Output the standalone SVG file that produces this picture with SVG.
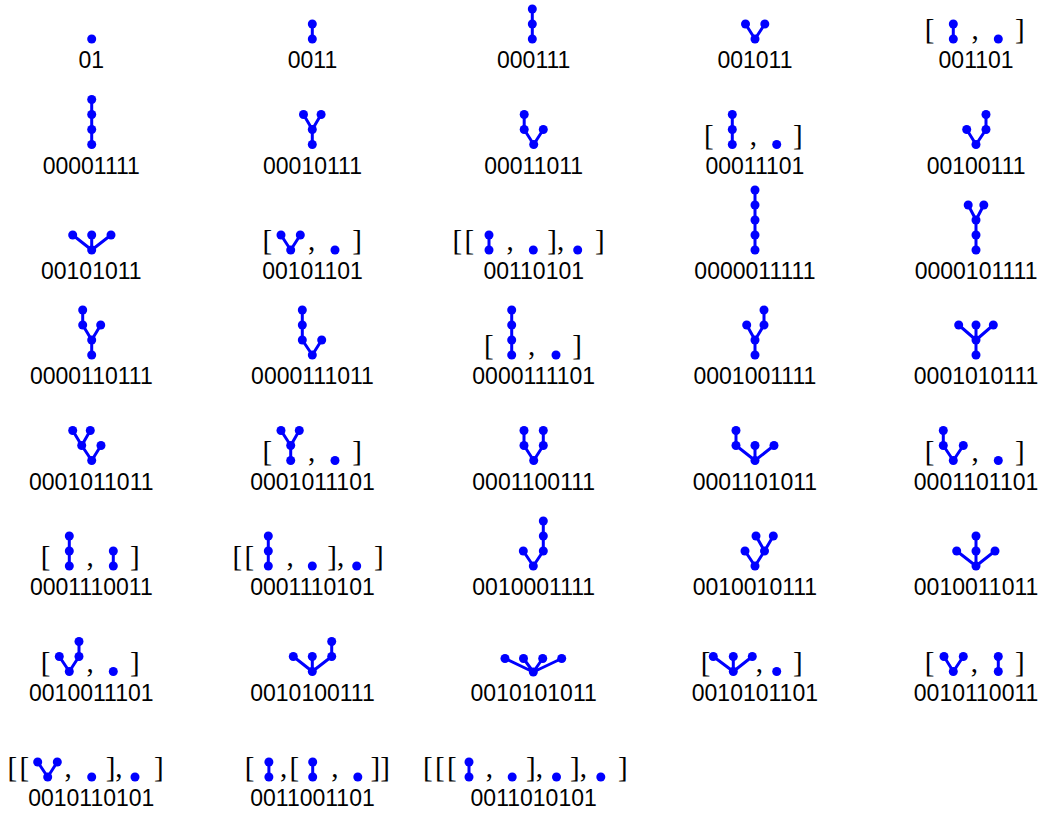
<svg xmlns="http://www.w3.org/2000/svg" width="1040" height="814" viewBox="0 0 1040 814">
<style>
.e{fill:none;stroke:#0000ff;stroke-width:3;stroke-linecap:round;stroke-linejoin:round}
.n{fill:#0000ff}
.l{font-family:"Liberation Sans",Arial,sans-serif;font-size:23px;text-anchor:middle;fill:#000}
.b{font-family:"Liberation Serif","Times New Roman",serif;font-size:29px;fill:#000}
</style>
<rect width="1040" height="814" fill="#fff"/>
<defs><circle id="d" r="4.5" class="n"/></defs>

<!-- Row 1 -->
<g id="w01"><use href="#d" x="91.7" y="39"/><text class="l" x="91.3" y="68">01</text></g>
<g id="w0011"><path class="e" d="M312.3 24V39"/><use href="#d" x="312.3" y="24"/><use href="#d" x="312.3" y="39"/><text class="l" x="312.5" y="68">0011</text></g>
<g id="w000111"><path class="e" d="M532.3 9V39"/><use href="#d" x="532.3" y="9"/><use href="#d" x="532.3" y="24"/><use href="#d" x="532.3" y="39"/><text class="l" x="533.7" y="68">000111</text></g>
<g id="w001011"><path class="e" d="M745.5 24L755 39L764.8 24"/><use href="#d" x="745.5" y="24"/><use href="#d" x="755" y="39"/><use href="#d" x="764.8" y="24"/><text class="l" x="754.9" y="68">001011</text></g>
<g id="w001101"><text class="b" x="924.7" y="39">[</text><path class="e" d="M953.3 24V39"/><use href="#d" x="953.3" y="24"/><use href="#d" x="953.3" y="39"/><text class="b" x="971.4" y="39">,</text><use href="#d" x="998.3" y="39"/><text class="b" x="1015" y="39">]</text><text class="l" x="976.1" y="68">001101</text></g>

<!-- Row 2 -->
<g id="w00001111"><path class="e" d="M91.7 99.5V144.5"/><use href="#d" x="91.7" y="99.5"/><use href="#d" x="91.7" y="114.5"/><use href="#d" x="91.7" y="129.5"/><use href="#d" x="91.7" y="144.5"/><text class="l" x="91.3" y="173.5">00001111</text></g>
<g id="w00010111"><path class="e" d="M312.3 144.5V129.5M303.5 114.5L312.3 129.5L321.1 114.5"/><use href="#d" x="312.3" y="144.5"/><use href="#d" x="312.3" y="129.5"/><use href="#d" x="303.5" y="114.5"/><use href="#d" x="321.1" y="114.5"/><text class="l" x="312.5" y="173.5">00010111</text></g>
<g id="w00011011"><path class="e" d="M524.2 114.5V129.5L533.7 144.5L543.3 129.5"/><use href="#d" x="524.2" y="114.5"/><use href="#d" x="524.2" y="129.5"/><use href="#d" x="533.7" y="144.5"/><use href="#d" x="543.3" y="129.5"/><text class="l" x="533.7" y="173.5">00011011</text></g>
<g id="w00011101"><text class="b" x="704.1" y="144.5">[</text><path class="e" d="M732.3 114.5V144.5"/><use href="#d" x="732.3" y="114.5"/><use href="#d" x="732.3" y="129.5"/><use href="#d" x="732.3" y="144.5"/><text class="b" x="749.7" y="144.5">,</text><use href="#d" x="776.7" y="144.5"/><text class="b" x="793" y="144.5">]</text><text class="l" x="754.9" y="173.5">00011101</text></g>
<g id="w00100111"><path class="e" d="M966.7 129.5L976 144.5L986 129.5V114.5"/><use href="#d" x="966.7" y="129.5"/><use href="#d" x="976" y="144.5"/><use href="#d" x="986" y="129.5"/><use href="#d" x="986" y="114.5"/><text class="l" x="976.1" y="173.5">00100111</text></g>

<!-- Row 3 -->
<g id="w00101011"><path class="e" d="M72.7 235L91.7 250L111 235M91.7 235V250"/><use href="#d" x="72.7" y="235"/><use href="#d" x="91.7" y="235"/><use href="#d" x="111" y="235"/><use href="#d" x="91.7" y="250"/><text class="l" x="91.3" y="279">00101011</text></g>
<g id="w00101101"><text class="b" x="262.4" y="250">[</text><path class="e" d="M281 235L290.7 250L300.3 235"/><use href="#d" x="281" y="235"/><use href="#d" x="290.7" y="250"/><use href="#d" x="300.3" y="235"/><text class="b" x="308.1" y="250">,</text><use href="#d" x="335" y="250"/><text class="b" x="352.3" y="250">]</text><text class="l" x="312.5" y="279">00101101</text></g>
<g id="w00110101"><text class="b" x="452.4" y="250">[</text><text class="b" x="464.4" y="250">[</text><path class="e" d="M489 235V250"/><use href="#d" x="489" y="235"/><use href="#d" x="489" y="250"/><text class="b" x="506.4" y="250">,</text><use href="#d" x="533.3" y="250"/><text class="b" x="547.3" y="250">],</text><use href="#d" x="577.7" y="250"/><text class="b" x="595" y="250">]</text><text class="l" x="533.7" y="279">00110101</text></g>
<g id="w0000011111"><path class="e" d="M755 190V250"/><use href="#d" x="755" y="190"/><use href="#d" x="755" y="205"/><use href="#d" x="755" y="220"/><use href="#d" x="755" y="235"/><use href="#d" x="755" y="250"/><text class="l" x="754.9" y="279">0000011111</text></g>
<g id="w0000101111"><path class="e" d="M976 250V220M968.2 205L976 220L983.8 205"/><use href="#d" x="976" y="250"/><use href="#d" x="976" y="235"/><use href="#d" x="976" y="220"/><use href="#d" x="968.2" y="205"/><use href="#d" x="983.8" y="205"/><text class="l" x="976.1" y="279">0000101111</text></g>

<!-- Row 4 -->
<g id="w0000110111"><path class="e" d="M91.7 355V340M82.7 310V325L91.7 340L100.7 325"/><use href="#d" x="91.7" y="355"/><use href="#d" x="91.7" y="340"/><use href="#d" x="82.7" y="325"/><use href="#d" x="82.7" y="310"/><use href="#d" x="100.7" y="325"/><text class="l" x="91.3" y="384">0000110111</text></g>
<g id="w0000111011"><path class="e" d="M302.3 310V340L312.3 355L321.7 340"/><use href="#d" x="302.3" y="310"/><use href="#d" x="302.3" y="325"/><use href="#d" x="302.3" y="340"/><use href="#d" x="312.3" y="355"/><use href="#d" x="321.7" y="340"/><text class="l" x="312.5" y="384">0000111011</text></g>
<g id="w0000111101"><text class="b" x="484.1" y="355">[</text><path class="e" d="M511.7 310V355"/><use href="#d" x="511.7" y="310"/><use href="#d" x="511.7" y="325"/><use href="#d" x="511.7" y="340"/><use href="#d" x="511.7" y="355"/><text class="b" x="528.1" y="355">,</text><use href="#d" x="556" y="355"/><text class="b" x="572.3" y="355">]</text><text class="l" x="533.7" y="384">0000111101</text></g>
<g id="w0001001111"><path class="e" d="M755 355V340M746.7 325L755 340L764 325V310"/><use href="#d" x="755" y="355"/><use href="#d" x="755" y="340"/><use href="#d" x="746.7" y="325"/><use href="#d" x="764" y="325"/><use href="#d" x="764" y="310"/><text class="l" x="754.9" y="384">0001001111</text></g>
<g id="w0001010111"><path class="e" d="M976 355V325M958.7 325L976 340L993.3 325"/><use href="#d" x="976" y="355"/><use href="#d" x="976" y="340"/><use href="#d" x="958.7" y="325"/><use href="#d" x="976" y="325"/><use href="#d" x="993.3" y="325"/><text class="l" x="976.1" y="384">0001010111</text></g>

<!-- Row 5 -->
<g id="w0001011011"><path class="e" d="M72.7 430.5L81.7 445.5L90.3 430.5M81.7 445.5L91.7 460.5L101 445.5"/><use href="#d" x="72.7" y="430.5"/><use href="#d" x="90.3" y="430.5"/><use href="#d" x="81.7" y="445.5"/><use href="#d" x="101" y="445.5"/><use href="#d" x="91.7" y="460.5"/><text class="l" x="91.3" y="489.5">0001011011</text></g>
<g id="w0001011101"><text class="b" x="262.4" y="460.5">[</text><path class="e" d="M290.7 460.5V445.5M281 430.5L290.7 445.5L299.3 430.5"/><use href="#d" x="290.7" y="460.5"/><use href="#d" x="290.7" y="445.5"/><use href="#d" x="281" y="430.5"/><use href="#d" x="299.3" y="430.5"/><text class="b" x="308.1" y="460.5">,</text><use href="#d" x="335" y="460.5"/><text class="b" x="352.3" y="460.5">]</text><text class="l" x="312.5" y="489.5">0001011101</text></g>
<g id="w0001100111"><path class="e" d="M524 430.5V445.5L533.7 460.5L543.3 445.5V430.5"/><use href="#d" x="524" y="430.5"/><use href="#d" x="524" y="445.5"/><use href="#d" x="533.7" y="460.5"/><use href="#d" x="543.3" y="445.5"/><use href="#d" x="543.3" y="430.5"/><text class="l" x="533.7" y="489.5">0001100111</text></g>
<g id="w0001101011"><path class="e" d="M736 430.5V445.5L755 460.5L774 445.5M755 445.5V460.5"/><use href="#d" x="736" y="430.5"/><use href="#d" x="736" y="445.5"/><use href="#d" x="755" y="445.5"/><use href="#d" x="774" y="445.5"/><use href="#d" x="755" y="460.5"/><text class="l" x="754.9" y="489.5">0001101011</text></g>
<g id="w0001101101"><text class="b" x="924.7" y="460.5">[</text><path class="e" d="M943.3 430.5V445.5L953.3 460.5L963.3 445.5"/><use href="#d" x="943.3" y="430.5"/><use href="#d" x="943.3" y="445.5"/><use href="#d" x="953.3" y="460.5"/><use href="#d" x="963.3" y="445.5"/><text class="b" x="971.4" y="460.5">,</text><use href="#d" x="998.3" y="460.5"/><text class="b" x="1015" y="460.5">]</text><text class="l" x="976.1" y="489.5">0001101101</text></g>

<!-- Row 6 -->
<g id="w0001110011"><text class="b" x="40.7" y="566">[</text><path class="e" d="M69.3 536V566M113.3 551V566"/><use href="#d" x="69.3" y="536"/><use href="#d" x="69.3" y="551"/><use href="#d" x="69.3" y="566"/><text class="b" x="86.4" y="566">,</text><use href="#d" x="113.3" y="551"/><use href="#d" x="113.3" y="566"/><text class="b" x="130" y="566">]</text><text class="l" x="91.3" y="595">0001110011</text></g>
<g id="w0001110101"><text class="b" x="232.4" y="566">[</text><text class="b" x="244.4" y="566">[</text><path class="e" d="M268.3 536V566"/><use href="#d" x="268.3" y="536"/><use href="#d" x="268.3" y="551"/><use href="#d" x="268.3" y="566"/><text class="b" x="286.4" y="566">,</text><use href="#d" x="312.3" y="566"/><text class="b" x="327.3" y="566">],</text><use href="#d" x="356.7" y="566"/><text class="b" x="374" y="566">]</text><text class="l" x="312.5" y="595">0001110101</text></g>
<g id="w0010001111"><path class="e" d="M523.3 551L533.3 566L543.3 551V521"/><use href="#d" x="523.3" y="551"/><use href="#d" x="533.3" y="566"/><use href="#d" x="543.3" y="551"/><use href="#d" x="543.3" y="536"/><use href="#d" x="543.3" y="521"/><text class="l" x="533.7" y="595">0010001111</text></g>
<g id="w0010010111"><path class="e" d="M745 551L755 566L764.5 551M756 536L764.5 551L773.3 536"/><use href="#d" x="745" y="551"/><use href="#d" x="755" y="566"/><use href="#d" x="764.5" y="551"/><use href="#d" x="756" y="536"/><use href="#d" x="773.3" y="536"/><text class="l" x="754.9" y="595">0010010111</text></g>
<g id="w0010011011"><path class="e" d="M956.7 551L976 566L995 551M976 566V536"/><use href="#d" x="956.7" y="551"/><use href="#d" x="976" y="551"/><use href="#d" x="976" y="536"/><use href="#d" x="995" y="551"/><use href="#d" x="976" y="566"/><text class="l" x="976.1" y="595">0010011011</text></g>

<!-- Row 7 -->
<g id="w0010011101"><text class="b" x="40.7" y="671.5">[</text><path class="e" d="M59.3 656.5L69.3 671.5L79 656.5V641.5"/><use href="#d" x="59.3" y="656.5"/><use href="#d" x="69.3" y="671.5"/><use href="#d" x="79" y="656.5"/><use href="#d" x="79" y="641.5"/><text class="b" x="86.4" y="671.5">,</text><use href="#d" x="113.3" y="671.5"/><text class="b" x="130" y="671.5">]</text><text class="l" x="91.3" y="700.5">0010011101</text></g>
<g id="w0010100111"><path class="e" d="M293.3 656.5L312.3 671.5L331.7 656.5V641.5M312.3 656.5V671.5"/><use href="#d" x="293.3" y="656.5"/><use href="#d" x="312.3" y="656.5"/><use href="#d" x="331.7" y="656.5"/><use href="#d" x="331.7" y="641.5"/><use href="#d" x="312.3" y="671.5"/><text class="l" x="312.5" y="700.5">0010100111</text></g>
<g id="w0010101011"><path class="e" d="M505 658.5L533.3 672L561.7 658.5M523.5 658.5L533.3 672L542.7 658.5"/><use href="#d" x="505" y="658.5"/><use href="#d" x="523.5" y="658.5"/><use href="#d" x="542.7" y="658.5"/><use href="#d" x="561.7" y="658.5"/><use href="#d" x="533.3" y="672"/><text class="l" x="533.7" y="700.5">0010101011</text></g>
<g id="w0010101101"><text class="b" x="700.7" y="671.5">[</text><path class="e" d="M713.3 656.5L733.3 671.5L752.3 656.5M733.3 656.5V671.5"/><use href="#d" x="713.3" y="656.5"/><use href="#d" x="733.3" y="656.5"/><use href="#d" x="752.3" y="656.5"/><use href="#d" x="733.3" y="671.5"/><text class="b" x="755.7" y="671.5">,</text><use href="#d" x="776.7" y="671.5"/><text class="b" x="793" y="671.5">]</text><text class="l" x="754.9" y="700.5">0010101101</text></g>
<g id="w0010110011"><text class="b" x="924.7" y="671.5">[</text><path class="e" d="M944 656.5L953.3 671.5L963.3 656.5M998.3 656.5V671.5"/><use href="#d" x="944" y="656.5"/><use href="#d" x="953.3" y="671.5"/><use href="#d" x="963.3" y="656.5"/><text class="b" x="970.7" y="671.5">,</text><use href="#d" x="998.3" y="656.5"/><use href="#d" x="998.3" y="671.5"/><text class="b" x="1015" y="671.5">]</text><text class="l" x="976.1" y="700.5">0010110011</text></g>

<!-- Row 8 -->
<g id="w0010110101"><text class="b" x="7.4" y="777">[</text><text class="b" x="19.4" y="777">[</text><path class="e" d="M37.7 762L47.7 777L57.3 762"/><use href="#d" x="37.7" y="762"/><use href="#d" x="47.7" y="777"/><use href="#d" x="57.3" y="762"/><text class="b" x="64.4" y="777">,</text><use href="#d" x="91.7" y="777"/><text class="b" x="105.7" y="777">],</text><use href="#d" x="135" y="777"/><text class="b" x="154" y="777">]</text><text class="l" x="91.3" y="806">0010110101</text></g>
<g id="w0011001101"><text class="b" x="244.7" y="777">[</text><path class="e" d="M268.9 762V777M312.7 762V777"/><use href="#d" x="268.9" y="762"/><use href="#d" x="268.9" y="777"/><text class="b" x="279.9" y="777">,</text><text class="b" x="289.5" y="777">[</text><use href="#d" x="312.7" y="762"/><use href="#d" x="312.7" y="777"/><text class="b" x="331.2" y="777">,</text><use href="#d" x="357.8" y="777"/><text class="b" x="370.5" y="777">]]</text><text class="l" x="312.5" y="806">0011001101</text></g>
<g id="w0011010101"><text class="b" x="422.9" y="777">[</text><text class="b" x="434.9" y="777">[</text><text class="b" x="446.9" y="777">[</text><path class="e" d="M469 762V777"/><use href="#d" x="469" y="762"/><use href="#d" x="469" y="777"/><text class="b" x="485.7" y="777">,</text><use href="#d" x="512.2" y="777"/><text class="b" x="526" y="777">],</text><use href="#d" x="556.5" y="777"/><text class="b" x="570" y="777">],</text><use href="#d" x="600.8" y="777"/><text class="b" x="618" y="777">]</text><text class="l" x="533.7" y="806">0011010101</text></g>
</svg>
